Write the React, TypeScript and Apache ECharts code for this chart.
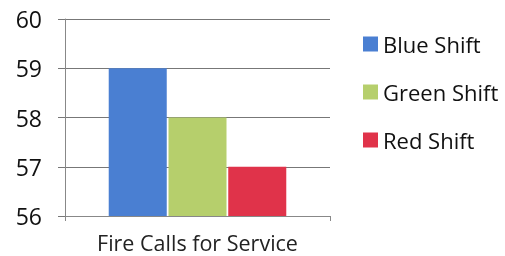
import React, { useEffect, useRef } from "react";
import * as echarts from "echarts";

const categories = ["Fire Calls for Service"];
const seriesNames = ["Blue Shift", "Green Shift", "Red Shift"];
const blueValues = [59];
const greenValues = [58];
const redValues = [57];
const colors = ["#4a7fd2", "#b6cf6c", "#e0334a"];
const yTicks = { min: 56, max: 60, interval: 1 };

export default function App() {
  const ref = useRef<HTMLDivElement>(null);
  useEffect(() => {
    if (!ref.current) return;
    const chart = echarts.init(ref.current, null, { renderer: "svg" });
    const font = "'Open Sans', 'Noto Sans', sans-serif";
    const values = [blueValues, greenValues, redValues];
    chart.setOption({
      animation: false,
      textStyle: { fontFamily: font },
      grid: { left: 65, right: 175, top: 19, bottom: 40 },
      legend: {
        orient: "vertical",
        left: 358,
        top: 28,
        itemWidth: 15,
        itemHeight: 15,
        itemGap: 26,
        icon: "rect",
        textStyle: { fontSize: 22, color: "#111", fontFamily: font },
        data: seriesNames,
      },
      xAxis: {
        type: "category",
        data: categories,
        axisLine: { lineStyle: { color: "#888" } },
        axisTick: { show: true, length: 5, lineStyle: { color: "#888" } },
        axisLabel: {
          fontSize: 21.5,
          lineHeight: 20,
          color: "#222",
          margin: 16,
          fontFamily: font,
        },
      },
      yAxis: {
        type: "value",
        min: yTicks.min,
        max: yTicks.max,
        interval: yTicks.interval,
        axisLine: { show: true, lineStyle: { color: "#888" } },
        axisTick: { show: true, length: 7, lineStyle: { color: "#777" } },
        splitLine: { lineStyle: { color: "#777", width: 1 } },
        axisLabel: { fontSize: 23, color: "#111", margin: 23, fontFamily: font },
      },
      series: seriesNames.map((name, i) => ({
        name,
        type: "bar",
        data: values[i],
        itemStyle: { color: colors[i] },
        barGap: "3%",
        barCategoryGap: "33%",
      })),
    });
    return () => chart.dispose();
  }, []);
  return (
    <div
      ref={ref}
      style={{ position: "fixed", top: 0, left: 0, width: 505, height: 256 }}
    />
  );
}
